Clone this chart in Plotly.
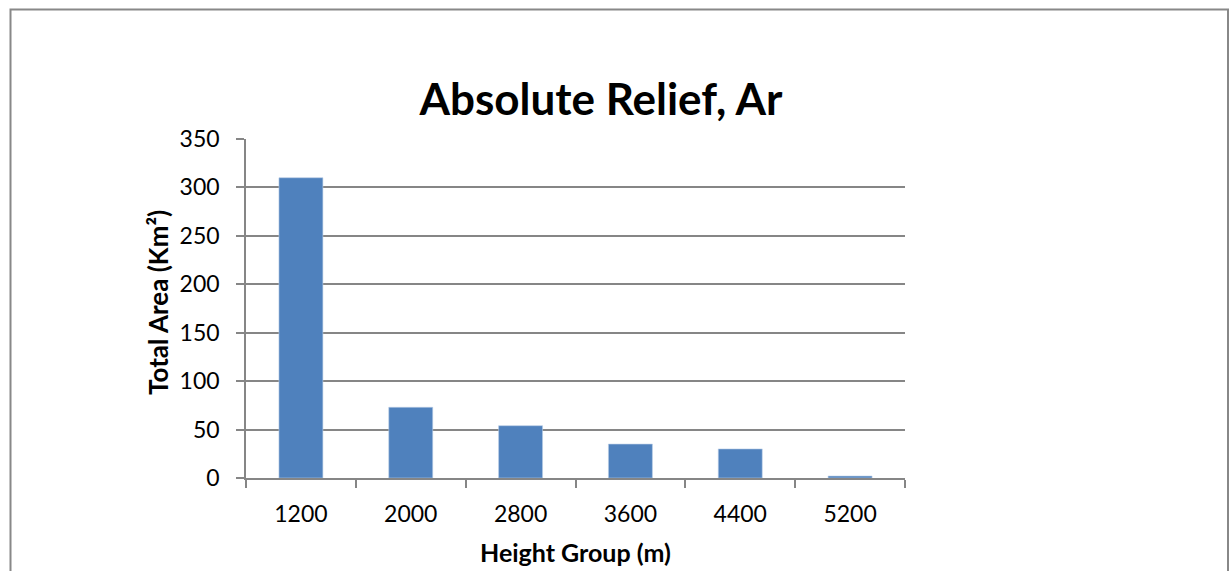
import plotly.graph_objects as go

# Height groups (m) and total area (km²) per group
height_groups = ["1200", "2000", "2800", "3600", "4400", "5200"]
total_area = [310, 73, 54, 35, 30, 2]

y_ticks = [0, 50, 100, 150, 200, 250, 300, 350]

W, H = 1229, 571
L, R, T, B = 246, 324, 139, 93
PW, PH = W - L - R, H - T - B

FONT = "Lato"
AXIS_GREY = "#868686"
BAR_BLUE = "#4F81BD"


def px_x(px):
    return (px - L) / PW


def px_y(py):
    return (H - B - py) / PH


fig = go.Figure(
    go.Bar(
        x=height_groups,
        y=total_area,
        marker=dict(color=BAR_BLUE, line=dict(color="#B9CDE5", width=0.6)),
        hoverinfo="x+y",
    )
)

fig.update_layout(
    width=W,
    height=H,
    margin=dict(l=L, r=R, t=T, b=B),
    paper_bgcolor="white",
    plot_bgcolor="white",
    bargap=0.6,
    showlegend=False,
    font=dict(family=FONT, color="#000000"),
    title=dict(
        text="<b>Absolute Relief, Ar</b>",
        font=dict(family=FONT, size=44, color="#000000"),
        xref="paper",
        x=px_x(601),
        xanchor="center",
        yref="container",
        y=1 - 100 / H,
        yanchor="middle",
    ),
    xaxis=dict(
        type="category",
        tickson="boundaries",
        ticks="outside",
        ticklen=8,
        tickwidth=1.5,
        tickcolor=AXIS_GREY,
        showline=True,
        linecolor=AXIS_GREY,
        linewidth=1.5,
        showgrid=False,
        ticklabelstandoff=15,
        tickfont=dict(family=FONT, size=23, color="#000000"),
        fixedrange=True,
    ),
    yaxis=dict(
        range=[0, 350],
        tickvals=y_ticks,
        ticks="outside",
        ticklen=8,
        tickwidth=1.5,
        tickcolor=AXIS_GREY,
        showline=True,
        linecolor=AXIS_GREY,
        linewidth=1.5,
        showgrid=True,
        gridcolor=AXIS_GREY,
        gridwidth=1.5,
        zeroline=False,
        ticklabelstandoff=12,
        tickfont=dict(family=FONT, size=23, color="#000000"),
        fixedrange=True,
    ),
    annotations=[
        dict(
            text="<b>Height Group (m)</b>",
            xref="paper", yref="paper",
            x=px_x(575), y=px_y(552),
            xanchor="center", yanchor="middle",
            showarrow=False,
            font=dict(family=FONT, size=25, color="#000000"),
        ),
        dict(
            text="<b>Total Area (Km²)</b>",
            xref="paper", yref="paper",
            x=px_x(158), y=px_y(303),
            xanchor="center", yanchor="middle",
            textangle=-90,
            showarrow=False,
            font=dict(family=FONT, size=26, color="#000000"),
        ),
    ],
    shapes=[
        dict(
            type="rect",
            xref="paper", yref="paper",
            x0=px_x(10.5), x1=px_x(1228),
            y0=px_y(9.5), y1=px_y(600),
            line=dict(color="#888888", width=2),
            fillcolor="rgba(0,0,0,0)",
            layer="below",
        )
    ],
)

fig.write_html("out.html")
